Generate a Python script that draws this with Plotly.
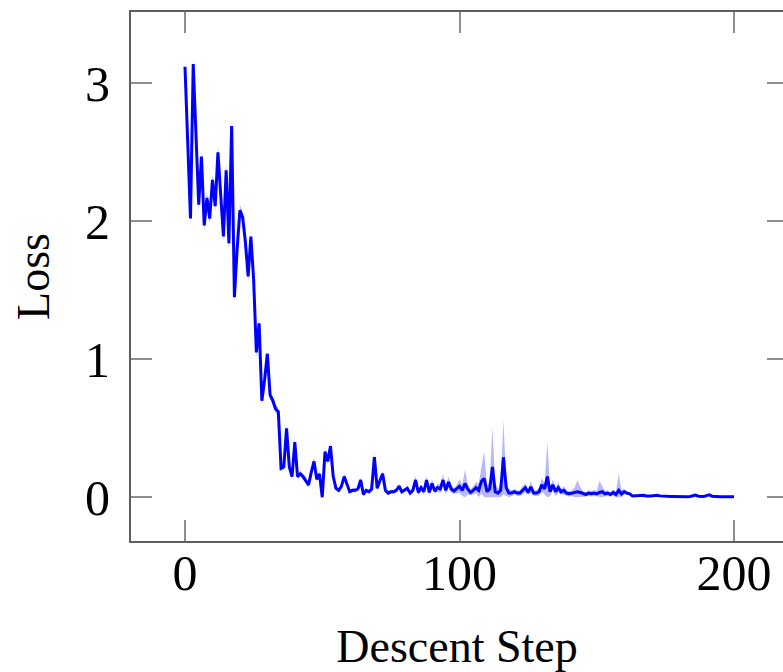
import numpy as np
import plotly.graph_objects as go

# Mean loss per descent step (0..200)
loss_mean = [
    3.12, 2.60, 2.02, 3.14, 2.60, 2.12, 2.47, 1.97, 2.17, 2.02,
    2.30, 2.11, 2.50, 2.20, 1.89, 2.37, 1.84, 2.69, 1.45, 1.80,
    2.08, 2.03, 1.85, 1.60, 1.89, 1.58, 1.05, 1.26, 0.70, 0.85,
    1.04, 0.74, 0.70, 0.64, 0.62, 0.21, 0.22, 0.50, 0.22, 0.15,
    0.40, 0.15, 0.17, 0.15, 0.12, 0.09, 0.18, 0.26, 0.13, 0.17,
    0.00, 0.33, 0.26, 0.37, 0.15, 0.065, 0.05, 0.08, 0.15, 0.10,
    0.04, 0.05, 0.05, 0.06, 0.125, 0.02, 0.05, 0.04, 0.06, 0.29,
    0.065, 0.12, 0.17, 0.05, 0.03, 0.04, 0.04, 0.05, 0.08, 0.04,
    0.05, 0.065, 0.03, 0.05, 0.125, 0.035, 0.07, 0.04, 0.125, 0.035,
    0.10, 0.045, 0.07, 0.06, 0.125, 0.05, 0.11, 0.06, 0.045, 0.06,
    0.08, 0.05, 0.10, 0.06, 0.035, 0.05, 0.07, 0.05, 0.115, 0.135,
    0.04, 0.06, 0.22, 0.04, 0.03, 0.05, 0.29, 0.07, 0.03, 0.03,
    0.04, 0.03, 0.03, 0.05, 0.07, 0.035, 0.075, 0.03, 0.03, 0.04,
    0.09, 0.06, 0.15, 0.04, 0.09, 0.04, 0.07, 0.04, 0.05, 0.03,
    0.025, 0.03, 0.035, 0.04, 0.035, 0.025, 0.02, 0.03, 0.025, 0.03,
    0.025, 0.035, 0.04, 0.025, 0.03, 0.02, 0.035, 0.02, 0.05, 0.025,
    0.04, 0.03, 0.025, 0.01, 0.012, 0.01, 0.012, 0.015, 0.01, 0.008,
    0.01, 0.012, 0.015, 0.01, 0.008, 0.006, 0.006, 0.005, 0.006, 0.005,
    0.005, 0.004, 0.004, 0.004, 0.006, 0.01, 0.016, 0.008, 0.005, 0.006,
    0.012, 0.018, 0.008, 0.005, 0.004, 0.004, 0.004, 0.004, 0.004, 0.004,
    0.004,
]

# Spread across runs at each step
loss_std = [
    0.04, 0.05, 0.05, 0.04, 0.05, 0.05, 0.05, 0.04, 0.04, 0.04,
    0.04, 0.04, 0.05, 0.04, 0.04, 0.05, 0.04, 0.05, 0.04, 0.04,
    0.04, 0.04, 0.04, 0.04, 0.04, 0.04, 0.04, 0.04, 0.03, 0.03,
    0.03, 0.03, 0.03, 0.03, 0.03, 0.02, 0.02, 0.03, 0.02, 0.02,
    0.03, 0.02, 0.02, 0.02, 0.02, 0.02, 0.02, 0.03, 0.02, 0.02,
    0.02, 0.03, 0.02, 0.03, 0.02, 0.015, 0.015, 0.015, 0.02, 0.015,
    0.015, 0.015, 0.015, 0.015, 0.02, 0.015, 0.015, 0.015, 0.02, 0.03,
    0.015, 0.02, 0.02, 0.015, 0.015, 0.015, 0.015, 0.015, 0.02, 0.015,
    0.015, 0.02, 0.015, 0.02, 0.03, 0.02, 0.02, 0.02, 0.03, 0.02,
    0.03, 0.02, 0.03, 0.03, 0.04, 0.03, 0.04, 0.03, 0.02, 0.03,
    0.05, 0.04, 0.10, 0.04, 0.02, 0.03, 0.04, 0.05, 0.09, 0.20,
    0.04, 0.06, 0.29, 0.06, 0.03, 0.05, 0.27, 0.06, 0.03, 0.02,
    0.02, 0.02, 0.02, 0.03, 0.03, 0.02, 0.04, 0.02, 0.02, 0.03,
    0.05, 0.04, 0.25, 0.03, 0.04, 0.03, 0.04, 0.02, 0.03, 0.02,
    0.02, 0.02, 0.04, 0.085, 0.04, 0.02, 0.015, 0.02, 0.02, 0.02,
    0.02, 0.085, 0.04, 0.02, 0.02, 0.015, 0.02, 0.02, 0.12, 0.03,
    0.02, 0.015, 0.01, 0.008, 0.006, 0.005, 0.005, 0.006, 0.005, 0.005,
    0.005, 0.005, 0.005, 0.005, 0.005, 0.004, 0.004, 0.004, 0.004, 0.004,
    0.004, 0.004, 0.004, 0.004, 0.004, 0.004, 0.005, 0.004, 0.004, 0.004,
    0.004, 0.005, 0.004, 0.004, 0.004, 0.004, 0.004, 0.004, 0.004, 0.004,
    0.004,
]

steps = list(range(len(loss_mean)))
x_ticks = [0, 100, 200]
y_ticks = [0, 1, 2, 3]

mean = np.array(loss_mean)
std = np.array(loss_std)
upper = mean + std
lower = np.clip(mean - std, 0, None)

FONT = "Liberation Serif"
SPINE = "#5e5e5e"
TICK = "#8e8e8e"
X_RANGE = [-19.67, 217.85]
Y_RANGE = [-0.317, 3.517]

fig = go.Figure()

# shaded spread band
fig.add_trace(go.Scatter(x=steps, y=lower, mode="lines", line=dict(width=0),
                         hoverinfo="skip", showlegend=False))
fig.add_trace(go.Scatter(x=steps, y=upper, mode="lines", line=dict(width=0),
                         fill="tonexty", fillcolor="rgba(0,0,255,0.28)",
                         hoverinfo="skip", showlegend=False))
# mean curve
fig.add_trace(go.Scatter(x=steps, y=mean, mode="lines",
                         line=dict(color="#0000ff", width=3),
                         showlegend=False))
# placeholder so the right-hand tick axis gets drawn
fig.add_trace(go.Scatter(x=[None], y=[None], yaxis="y2", showlegend=False,
                         hoverinfo="skip"))

fig.update_layout(
    width=783, height=672,
    margin=dict(l=131, r=0, t=12, b=131, autoexpand=False),
    paper_bgcolor="white", plot_bgcolor="white",
    font=dict(family=FONT, color="black"),
    xaxis=dict(
        range=X_RANGE, tickvals=x_ticks, ticktext=[str(v) for v in x_ticks],
        ticks="inside", ticklen=21, tickwidth=2, tickcolor=TICK,
        showline=True, linecolor=SPINE, linewidth=2, mirror="ticks",
        showgrid=False, zeroline=False,
        tickfont=dict(family=FONT, size=50),
        ticklabelstandoff=-13,
        title=dict(text="Descent Step", font=dict(family=FONT, size=46), standoff=42),
    ),
    yaxis=dict(
        range=Y_RANGE, tickvals=y_ticks, ticktext=[str(v) for v in y_ticks],
        ticks="inside", ticklen=21, tickwidth=2, tickcolor=TICK,
        showline=True, linecolor=SPINE, linewidth=2, mirror=False,
        showgrid=False, zeroline=False,
        tickfont=dict(family=FONT, size=50),
        ticklabelstandoff=9,
        title=dict(text="Loss", font=dict(family=FONT, size=46), standoff=21),
    ),
    yaxis2=dict(
        range=Y_RANGE, tickvals=y_ticks, overlaying="y", side="right",
        anchor="free", position=1.0,
        ticks="inside", ticklen=16, tickwidth=2, tickcolor=TICK,
        showline=False, showgrid=False, zeroline=False, showticklabels=False,
    ),
)

fig.write_html("out.html")
